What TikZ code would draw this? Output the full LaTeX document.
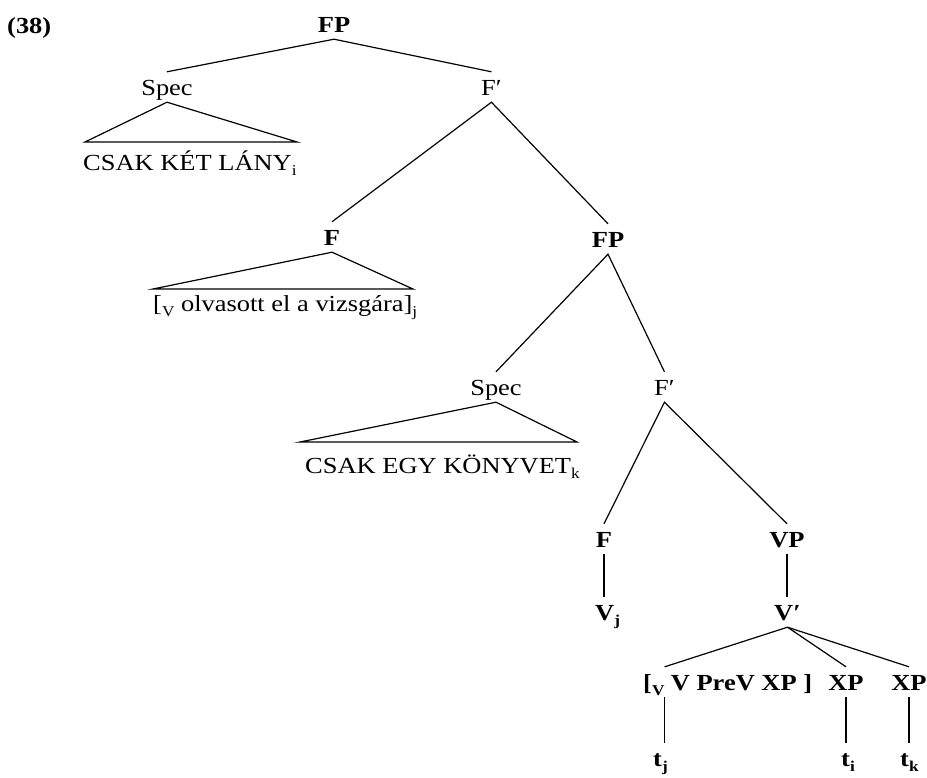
\documentclass[tikz,border=0pt]{standalone}
\usepackage{fontspec}
\setmainfont{Liberation Serif}[FakeStretch=1.15]
\newcommand\lsub[1]{\raisebox{-0.25em}{\fontsize{15}{15}\selectfont #1}}
\begin{document}
\begin{tikzpicture}[x=1pt,y=-1pt,
  lab/.style={inner xsep=1pt, inner ysep=7pt, text height=16pt, text depth=0pt, anchor=base, font=\fontsize{23}{27}\selectfont},
  blab/.style={lab, font=\fontsize{23}{27}\selectfont\bfseries},
  txt/.style={inner sep=0pt, anchor=base west, font=\fontsize{23}{27}\selectfont},
  btxt/.style={txt, font=\fontsize{23}{27}\selectfont\bfseries},
  edge/.style={line width=1.2pt, line join=miter}]
\useasboundingbox (0,0) rectangle (927,777);

% example number
\node[btxt] (num) at (7,33) {(38)};

% top FP
\node[blab] (fp1) at (334,32) {FP};
\node[lab] (spec1) at (167,95) {Spec};
\node[lab, anchor=base west] (fb1) at (480,95) {F′};
\coordinate (t1l) at (85,142);
\coordinate (t1r) at (297,142);
\node[txt] (csak1) at (83,170) {CSAK KÉT LÁNY\lsub{i}};

% lower F with triangle
\node[blab] (f1) at (332,245) {F};
\coordinate (t2l) at (153,289);
\coordinate (t2r) at (413,289);
\node[txt] (olv) at (153,311) {[\lsub{V} olvasott el a vizsgára]\lsub{j}};

% FP 2
\node[blab] (fp2) at (608,247) {FP};
\node[lab] (spec2) at (496,395) {Spec};
\node[lab, anchor=base west] (fb2) at (653,395) {F′};
\coordinate (t3l) at (300,442);
\coordinate (t3r) at (577,442);
\node[txt] (csak2) at (305,473) {CSAK EGY KÖNYVET\lsub{k}};

% F and VP
\node[blab] (f3) at (604,547) {F};
\node[blab] (vp) at (787,547) {VP};
\node[blab, anchor=base west] (vj) at (594,620) {V\lsub{j}};
\node[blab, anchor=base west] (vb) at (773,620) {V′};

% bottom row
\node[blab, anchor=base west, inner xsep=0pt] (lb) at (643,690) {[\lsub{V}};
\node[btxt, xshift=6pt] (rest) at (lb.base east) {V PreV XP ]};
\node[blab] (xp1) at (846,690) {XP};
\node[blab] (xp2) at (909,690) {XP};
\node[blab, anchor=base west] (tj) at (652,766) {t\lsub{j}};
\node[blab, anchor=base west] (ti) at (840,766) {t\lsub{i}};
\node[blab, anchor=base west] (tk) at (899,766) {t\lsub{k}};

% edges
\draw[edge] (spec1.north) -- (fp1.south) -- (fb1.north);
\draw[edge] (t1l) -- (spec1.south) -- (t1r) -- cycle;
\draw[edge] (f1.north) -- (fb1.south) -- (fp2.north);
\draw[edge] (t2l) -- (f1.south) -- (t2r) -- cycle;
\draw[edge] (spec2.north) -- (fp2.south) -- (fb2.north);
\draw[edge] (t3l) -- (spec2.south) -- (t3r) -- cycle;
\draw[edge] (f3.north) -- (fb2.south) -- (vp.north);
\draw[edge] (f3.south) -- (f3.south |- vj.north);
\draw[edge] (vp.south) -- (vp.south |- vb.north);
\draw[edge] (vb.south) -- (lb.north east);
\draw[edge] (vb.south) -- (xp1.north);
\draw[edge] (vb.south) -- (xp2.north);
\draw[edge] (lb.south east) -- (lb.south east |- tj.north);
\draw[edge] (xp1.south) -- (xp1.south |- ti.north);
\draw[edge] (xp2.south) -- (xp2.south |- tk.north);
\end{tikzpicture}
\end{document}
